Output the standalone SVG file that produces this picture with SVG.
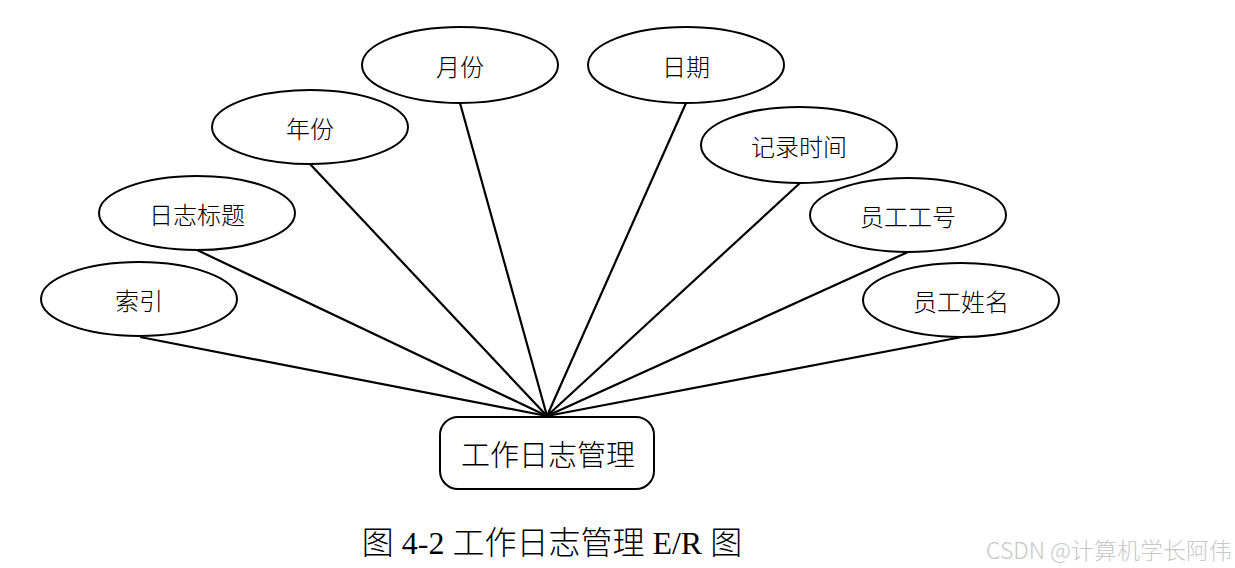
<svg xmlns="http://www.w3.org/2000/svg" width="1235" height="568" viewBox="0 0 1235 568">
<style>
.e{fill:#fff;stroke:#000;stroke-width:2}
.t{font-family:"Noto Sans CJK SC",sans-serif;font-size:24px;font-weight:300;fill:#000;text-anchor:middle;dominant-baseline:central}
.c line{stroke:#000;stroke-width:2.2}
</style>
<rect width="1235" height="568" fill="#fff"/>
<g class="c" id="connectors">
<line x1="140" y1="337" x2="547" y2="416"/>
<line x1="197" y1="250" x2="547" y2="416"/>
<line x1="310" y1="164" x2="547" y2="416"/>
<line x1="460" y1="103" x2="547" y2="416"/>
<line x1="686" y1="103" x2="547" y2="416"/>
<line x1="800" y1="183" x2="547" y2="416"/>
<line x1="908" y1="252" x2="547" y2="416"/>
<line x1="962" y1="337" x2="547" y2="416"/>
</g>
<g id="n-suoyin"><ellipse class="e" cx="139" cy="299" rx="98" ry="37"/><text class="t" x="139" y="299">索引</text></g>
<g id="n-biaoti"><ellipse class="e" cx="197" cy="213" rx="98" ry="37"/><text class="t" x="197" y="213">日志标题</text></g>
<g id="n-nianfen"><ellipse class="e" cx="310" cy="127" rx="98" ry="37"/><text class="t" x="310" y="127">年份</text></g>
<g id="n-yuefen"><ellipse class="e" cx="460" cy="65" rx="98" ry="38"/><text class="t" x="460" y="65">月份</text></g>
<g id="n-riqi"><ellipse class="e" cx="686" cy="65" rx="98" ry="38"/><text class="t" x="686" y="65">日期</text></g>
<g id="n-jilu"><ellipse class="e" cx="799" cy="145" rx="98" ry="38"/><text class="t" x="799" y="145">记录时间</text></g>
<g id="n-gonghao"><ellipse class="e" cx="908" cy="215" rx="98" ry="37"/><text class="t" x="908" y="215">员工工号</text></g>
<g id="n-xingming"><ellipse class="e" cx="961" cy="300" rx="98" ry="37"/><text class="t" x="961" y="300">员工姓名</text></g>
<g id="n-main"><rect x="440" y="417" width="214" height="72" rx="18" fill="#fff" stroke="#000" stroke-width="2"/><text class="t" x="548" y="453" style="font-size:29px">工作日志管理</text></g>
<text x="552" y="543" style="font-family:'Liberation Serif','Noto Sans CJK SC',serif;font-size:32px;font-weight:300;text-anchor:middle;dominant-baseline:central">图 4-2 工作日志管理 E/R 图</text>
<text x="1232" y="549" style="font-family:'Noto Sans CJK SC',sans-serif;font-size:23px;font-weight:300;fill:#c8c8c8;text-anchor:end;dominant-baseline:central">CSDN @计算机学长阿伟</text>
</svg>
